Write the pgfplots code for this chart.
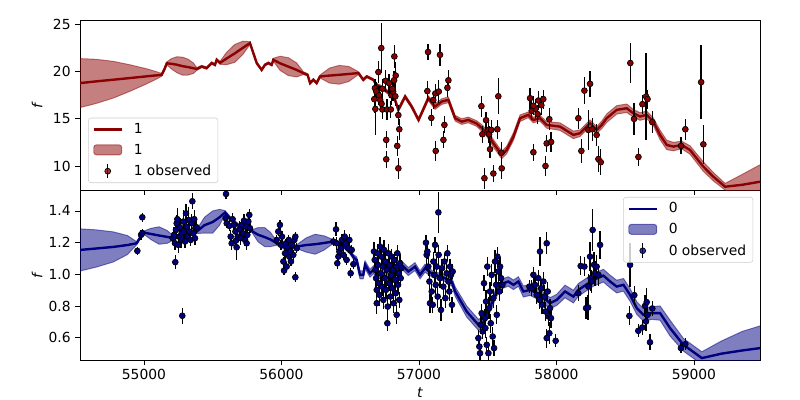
\documentclass[border=0pt]{standalone}
\usepackage{pgfplots}
\pgfplotsset{compat=1.18}
\usepackage{pgfplotstable}
\usepgfplotslibrary{fillbetween}
\usepackage{fontspec}
\setmainfont{DejaVu Sans}
\definecolor{dred}{HTML}{8B0000}
\definecolor{nvy}{HTML}{000080}

\pgfplotstableread{
t m s
54400 18.60 2.90
54535 18.80 2.60
54650 18.98 2.35
54777 19.16 1.95
54900 19.34 1.40
55020 19.52 0.80
55090 19.62 0.40
55129 19.68 0.15
55150 20.30 0.15
55166 20.90 0.15
55200 20.85 0.55
55240 20.75 0.85
55280 20.60 0.95
55320 20.50 0.85
55360 20.38 0.55
55384 20.30 0.15
55420 20.56 0.12
55456 20.39 0.12
55493 20.93 0.12
55517 20.74 0.12
55529 21.28 0.12
55553 20.95 0.15
55600 21.40 0.65
55660 21.95 0.95
55720 22.55 0.70
55771 23.05 0.15
55820 20.93 0.12
55856 20.20 0.12
55880 20.74 0.12
55905 20.93 0.12
55929 20.74 0.12
55941 21.28 0.15
55990 20.90 0.75
56050 20.55 0.95
56110 20.20 0.75
56159 19.86 0.15
56190 19.68 0.12
56208 18.80 0.12
56232 19.15 0.12
56256 18.80 0.12
56280 19.50 0.15
56350 19.60 0.80
56420 19.68 1.00
56490 19.77 0.80
56560 19.86 0.15
56595 19.15 0.12
56620 19.50 0.12
56644 19.33 0.12
56668 19.15 0.12
56693 18.60 0.15
56720 18.40 0.20
56760 18.00 0.20
56800 17.50 0.20
56826 17.02 0.20
56850 15.96 0.20
56899 17.37 0.20
56947 16.31 0.20
56997 14.89 0.20
57068 17.20 0.25
57117 16.31 0.30
57166 16.84 0.30
57214 17.02 0.30
57263 15.07 0.30
57311 14.71 0.30
57359 14.89 0.30
57420 14.50 0.30
57460 14.00 0.35
57493 13.48 0.35
57541 12.41 0.40
57602 11.17 0.40
57638 11.70 0.40
57687 13.12 0.40
57735 15.07 0.35
57795 15.43 0.30
57832 14.89 0.30
57880 15.07 0.30
57929 14.36 0.35
58026 14.18 0.40
58123 13.30 0.40
58171 13.48 0.35
58244 14.54 0.35
58292 13.83 0.35
58329 14.36 0.40
58365 15.07 0.45
58438 15.96 0.45
58511 16.13 0.45
58559 15.60 0.40
58608 15.25 0.40
58656 15.43 0.40
58704 14.71 0.40
58753 13.30 0.50
58802 12.23 0.50
58850 12.06 0.45
58910 12.23 0.40
58971 11.70 0.45
59068 9.93 0.50
59141 8.86 0.45
59226 7.80 0.35
59350 8.00 1.10
59480 8.33 1.80
}\topgp

\pgfplotstableread{
t y e
56726 22.52 2.7
56705 19.97 1.2
56680 18.27 1.0
56675 17.10 1.5
56683 16.06 2.8
56690 17.90 1.0
56709 17.50 1.0
56718 17.00 0.9
56728 16.60 0.9
56734 16.00 1.0
56758 19.04 1.2
56734 18.20 1.0
56767 16.00 1.1
56782 18.80 1.0
56795 16.00 0.9
56800 17.50 1.0
56812 17.90 1.0
56821 21.63 1.2
56831 19.60 1.4
56819 19.10 1.0
56807 18.20 1.0
56828 17.40 1.0
56762 12.77 0.9
56762 10.71 0.9
56850 15.40 1.1
56857 13.90 1.1
56842 12.13 1.1
56850 9.75 1.1
57066 22.10 0.9
57153 21.80 1.2
57061 17.95 1.1
57090 15.10 0.9
57104 17.00 0.9
57119 17.70 1.0
57144 17.90 1.2
57214 19.10 1.1
57207 18.30 1.0
57185 14.36 0.9
57178 12.77 0.9
57122 11.60 1.1
57454 16.35 1.1
57488 14.86 0.9
57461 13.37 0.9
57505 13.83 1.0
57510 13.37 0.9
57526 13.83 1.0
57570 13.90 1.0
57577 17.40 1.9
57517 11.78 0.9
57599 11.40 1.1
57602 9.75 1.1
57541 9.20 0.9
57476 8.70 1.1
57808 17.20 1.1
57820 15.85 1.0
57848 16.10 1.0
57863 15.50 1.0
57868 16.95 1.0
57890 16.45 1.0
57904 17.10 1.0
57832 16.40 1.0
57948 14.97 1.2
57929 12.40 0.9
57961 12.55 1.1
57920 10.00 1.1
57832 11.46 0.9
58159 15.07 1.1
58203 18.00 1.4
58244 18.72 1.4
58232 13.83 2.1
58261 13.90 1.2
58292 13.30 1.2
58181 11.60 1.3
58305 10.74 1.4
58322 10.40 1.4
58537 20.93 2.1
58564 15.00 1.7
58596 10.96 1.0
58625 16.56 1.0
58652 17.37 4.6
58662 17.10 1.0
58697 14.65 1.2
58906 12.13 0.9
58937 13.90 1.1
59052 18.90 3.9
59068 12.30 2.1
}\topobs

\pgfplotstableread{
t m s
54400 1.145 0.145
54535 1.154 0.133
54650 1.163 0.118
54777 1.173 0.095
54880 1.185 0.060
54947 1.196 0.010
54984 1.249 0.010
55000 1.263 0.010
55050 1.255 0.035
55110 1.245 0.055
55170 1.236 0.040
55218 1.228 0.010
55260 1.240 0.010
55300 1.260 0.010
55340 1.270 0.010
55384 1.270 0.012
55440 1.310 0.050
55500 1.330 0.070
55550 1.360 0.050
55590 1.390 0.012
55640 1.340 0.012
55700 1.300 0.012
55771 1.290 0.012
55790 1.270 0.012
55830 1.250 0.045
55878 1.235 0.060
55920 1.220 0.045
55966 1.196 0.012
56020 1.170 0.012
56070 1.170 0.012
56111 1.175 0.012
56180 1.185 0.045
56245 1.190 0.063
56310 1.198 0.045
56377 1.207 0.012
56450 1.180 0.012
56499 1.140 0.012
56523 1.110 0.015
56547 1.090 0.020
56571 0.997 0.025
56595 0.997 0.025
56608 1.060 0.025
56644 1.007 0.025
56670 1.030 0.025
56700 1.000 0.025
56780 0.980 0.025
56850 1.020 0.025
56874 1.060 0.025
56923 1.018 0.025
56971 1.049 0.025
57008 0.997 0.025
57044 1.039 0.025
57100 1.000 0.020
57180 0.980 0.020
57240 0.950 0.025
57263 0.892 0.030
57347 0.766 0.035
57432 0.682 0.035
57470 0.700 0.030
57520 0.800 0.030
57570 0.900 0.030
57614 0.944 0.030
57650 0.955 0.030
57687 0.934 0.030
57723 0.955 0.030
57759 0.892 0.035
57808 0.902 0.035
57880 0.871 0.035
57953 0.818 0.035
58002 0.839 0.035
58062 0.892 0.040
58123 0.860 0.040
58159 0.902 0.040
58232 0.944 0.040
58268 0.965 0.040
58341 0.992 0.040
58390 0.955 0.040
58438 0.923 0.040
58487 0.934 0.040
58535 0.871 0.040
58584 0.787 0.040
58632 0.745 0.040
58693 0.756 0.040
58753 0.756 0.045
58826 0.661 0.050
58923 0.556 0.040
59057 0.472 0.040
59200 0.500 0.080
59350 0.520 0.120
59480 0.535 0.140
}\botgp

\pgfplotstableread{
t y e
54952 1.148 0.025
54979 1.249 0.030
54988 1.360 0.030
54988 1.260 0.025
55209 1.228 0.040
55219 1.249 0.050
55226 1.196 0.040
55228 1.077 0.045
55233 1.280 0.060
55238 1.322 0.050
55243 1.348 0.070
55250 1.186 0.050
55257 1.238 0.040
55262 1.297 0.060
55270 1.217 0.050
55274 1.259 0.040
55279 0.739 0.050
55286 1.333 0.070
55291 1.270 0.050
55299 1.207 0.040
55306 1.385 0.060
55311 1.301 0.050
55318 1.238 0.040
55325 1.343 0.080
55330 1.270 0.050
55340 1.217 0.040
55347 1.322 0.060
55352 1.461 0.050
55359 1.259 0.050
55366 1.348 0.060
55374 1.291 0.050
55383 1.297 0.040
55371 1.228 0.040
55597 1.507 0.030
55594 1.354 0.030
55602 1.322 0.030
55621 1.306 0.035
55631 1.238 0.040
55638 1.196 0.040
55645 1.348 0.040
55655 1.312 0.040
55665 1.270 0.040
55669 1.213 0.050
55674 1.171 0.080
55682 1.238 0.040
55694 1.284 0.050
55703 1.228 0.040
55713 1.312 0.040
55720 1.259 0.050
55728 1.339 0.040
55735 1.217 0.040
55742 1.301 0.050
55752 1.249 0.040
55759 1.333 0.040
55766 1.375 0.040
55771 1.291 0.030
55747 1.196 0.040
55965 1.217 0.030
55977 1.270 0.030
55989 1.312 0.030
55997 1.186 0.030
56004 1.238 0.035
56014 1.081 0.030
56019 1.024 0.030
56026 1.133 0.035
56033 1.196 0.030
56038 1.049 0.030
56045 1.165 0.030
56053 1.217 0.030
56057 1.112 0.030
56062 1.144 0.030
56069 1.081 0.030
56077 1.186 0.030
56086 1.123 0.030
56094 1.217 0.030
56101 1.238 0.030
56101 0.982 0.030
56111 1.165 0.030
56377 1.207 0.030
56397 1.284 0.045
56402 1.196 0.040
56406 1.070 0.035
56414 1.112 0.030
56421 1.144 0.040
56431 1.165 0.040
56440 1.217 0.040
56450 1.123 0.035
56460 1.238 0.040
56469 1.196 0.035
56474 1.091 0.035
56486 1.165 0.030
56494 1.217 0.035
56503 1.007 0.030
56511 1.154 0.030
56523 1.064 0.030
56673 1.144 0.060
56678 1.091 0.050
56683 1.028 0.070
56688 0.976 0.060
56693 0.902 0.050
56693 0.818 0.070
56697 1.133 0.060
56702 1.060 0.050
56707 0.944 0.060
56712 0.871 0.070
56717 1.175 0.060
56722 1.007 0.050
56726 1.112 0.070
56731 0.923 0.060
56736 1.049 0.050
56741 0.839 0.060
56746 1.154 0.060
56751 0.976 0.070
56756 1.081 0.050
56760 0.902 0.060
56765 1.028 0.060
56770 0.692 0.050
56773 0.797 0.070
56777 1.133 0.060
56782 0.944 0.050
56787 1.060 0.060
56792 0.860 0.070
56797 0.997 0.060
56802 1.112 0.050
56806 0.913 0.060
56811 1.028 0.070
56816 0.818 0.060
56821 1.091 0.050
56826 0.965 0.060
56831 0.881 0.070
56836 1.049 0.060
56838 0.745 0.060
56843 1.133 0.050
56848 0.934 0.060
56853 1.007 0.060
56857 0.839 0.050
56862 1.070 0.060
56867 0.976 0.050
56872 1.039 0.050
57051 1.200 0.050
57056 1.123 0.060
57061 1.144 0.050
57068 1.049 0.060
57076 0.955 0.070
57080 0.818 0.060
57093 0.892 0.060
57100 0.808 0.050
57105 1.081 0.060
57112 0.997 0.070
57117 1.186 0.050
57122 0.934 0.060
57129 1.049 0.060
57136 0.860 0.070
57141 1.391 0.130
57143 1.123 0.060
57153 0.976 0.060
57160 0.776 0.070
57168 1.039 0.060
57177 0.923 0.060
57185 1.081 0.050
57192 0.850 0.060
57202 1.007 0.060
57207 1.133 0.050
57214 0.955 0.060
57221 0.892 0.060
57226 1.049 0.050
57233 0.997 0.060
57240 0.808 0.050
57245 1.018 0.050
57432 0.598 0.050
57439 0.545 0.040
57444 0.503 0.040
57449 0.682 0.060
57456 0.755 0.060
57463 0.640 0.050
57473 0.944 0.050
57480 0.724 0.060
57483 0.661 0.060
57488 0.829 0.070
57493 0.556 0.050
57497 1.049 0.060
57505 0.503 0.040
57510 0.787 0.070
57517 0.892 0.060
57522 0.692 0.060
57529 0.997 0.070
57536 0.608 0.060
57541 0.850 0.060
57546 0.535 0.050
57553 1.081 0.070
57561 0.934 0.070
57566 0.745 0.060
57570 1.112 0.060
57577 1.018 0.070
57585 0.892 0.060
57590 1.049 0.060
57597 0.976 0.060
57607 0.934 0.050
57803 0.923 0.040
57820 0.913 0.050
57832 0.997 0.050
57844 0.934 0.060
57856 0.871 0.060
57868 0.976 0.050
57876 0.839 0.060
57880 1.144 0.090
57888 0.913 0.060
57895 0.808 0.060
57905 0.955 0.060
57912 0.860 0.070
57920 0.766 0.060
57929 1.196 0.070
57929 0.598 0.060
57936 0.892 0.060
57944 0.734 0.060
57948 0.629 0.070
57953 0.787 0.060
57960 0.724 0.060
57994 0.581 0.040
58159 0.881 0.050
58176 1.053 0.060
58203 1.049 0.060
58215 0.787 0.070
58230 0.791 0.080
58232 0.923 0.080
58244 1.112 0.090
58249 0.976 0.080
58256 0.955 0.070
58263 1.280 0.130
58273 1.060 0.080
58280 1.007 0.080
58292 1.049 0.070
58305 0.997 0.070
58317 1.186 0.090
58530 0.738 0.060
58535 1.060 0.140
58566 0.869 0.060
58595 0.644 0.040
58624 0.665 0.050
58644 0.801 0.070
58651 0.703 0.060
58656 0.825 0.090
58663 0.745 0.060
58680 0.572 0.050
58697 0.785 0.050
58905 0.535 0.030
58937 0.560 0.040
}\botobs

\pgfplotsset{
  every axis/.append style={
    scale only axis, width=510pt, height=127.5pt,
    xmin=54535, xmax=59480,
    scaled x ticks=false, scaled y ticks=false,
    font=\fontsize{10.4pt}{12.5pt}\selectfont,
    tick label style={font=\fontsize{10.4pt}{12.5pt}\selectfont},
    /pgf/number format/assume math mode=true,
    /pgf/number format/set thousands separator={},
    xtick={55000,56000,57000,58000,59000},
    xtick pos=bottom, ytick pos=left,
    tick align=outside, major tick length=3.5pt,
    tick style={black, line width=0.6pt},
    axis line style={line width=0.6pt},
    legend cell align=left,
    legend style={draw=black!20, rounded corners=2pt, fill=white, fill opacity=0.8, text opacity=1,
      font=\fontsize{10.4pt}{12.5pt}\selectfont, inner xsep=3pt, inner ysep=2pt, row sep=2.5pt},
    ylabel style={at={(axis description cs:-0.063,0.5)}, anchor=center},
  },
}

\begin{document}
\begin{tikzpicture}
\begin{axis}[name=top, ymin=7.45, ymax=25.5, ytick={10,15,20,25}, xticklabels={},
  ylabel={\textit{f}},
  legend style={at={(0.012,0.041)}, anchor=south west}]
\addlegendimage{legend image code/.code={\path[draw=none, fill=none] (-1pt,0pt) -- (28pt,0pt); \draw[dred, line width=1.8pt] (0pt,0pt) -- (21pt,0pt);}}
\addlegendentry{1}
\addlegendimage{legend image code/.code={\path[draw=none, fill=none] (-1pt,0pt) -- (28pt,0pt); \draw[fill=dred, fill opacity=0.5, draw=dred, draw opacity=0.5, line width=0.7pt] (0pt,-3.5pt) rectangle (21pt,4pt);}}
\addlegendentry{1}
\addlegendimage{legend image code/.code={\path[draw=none, fill=none] (-1pt,0pt) -- (28pt,0pt); \draw[black, line width=1pt] (10.5pt,-5.5pt) -- (10.5pt,5.5pt); \draw[fill=dred, draw=black, line width=0.5pt] (10.5pt,0pt) circle (2.2pt);}}
\addlegendentry{1 observed}
\addplot[forget plot, draw=dred, draw opacity=0.5, line width=0.7pt, name path=tu] table[x=t, y expr=\thisrow{m}+\thisrow{s}] {\topgp};
\addplot[forget plot, draw=dred, draw opacity=0.5, line width=0.7pt, name path=tl] table[x=t, y expr=\thisrow{m}-\thisrow{s}] {\topgp};
\addplot[forget plot, fill=dred, fill opacity=0.5, draw=none] fill between[of=tu and tl];
\addplot[forget plot, dred, line width=1.8pt] table[x=t, y=m] {\topgp};
\addplot[forget plot, only marks, mark=*, mark size=2.2pt, mark options={fill=dred, draw=black, line width=0.5pt},
  error bars/.cd, y dir=both, y explicit, error bar style={black, line width=1pt}, error mark=none]
  table[x=t, y=y, y error=e] {\topobs};
\end{axis}
\begin{axis}[name=bot, at={(top.south west)}, anchor=north west,
  ymin=0.46, ymax=1.532, ytick={0.6,0.8,1.0,1.2,1.4},
  yticklabel style={/pgf/number format/.cd, fixed, fixed zerofill, precision=1},
  ylabel={\textit{f}}, xlabel={\textit{t}},
  xlabel style={at={(axis description cs:0.5,-0.19)}, anchor=center},
  legend style={at={(0.99,0.959)}, anchor=north east}]
\addlegendimage{legend image code/.code={\path[draw=none, fill=none] (-1pt,0pt) -- (28pt,0pt); \draw[nvy, line width=1.8pt] (0pt,0pt) -- (21pt,0pt);}}
\addlegendentry{0}
\addlegendimage{legend image code/.code={\path[draw=none, fill=none] (-1pt,0pt) -- (28pt,0pt); \draw[fill=nvy, fill opacity=0.5, draw=nvy, draw opacity=0.5, line width=0.7pt] (0pt,-3.5pt) rectangle (21pt,4pt);}}
\addlegendentry{0}
\addlegendimage{legend image code/.code={\path[draw=none, fill=none] (-1pt,0pt) -- (28pt,0pt); \draw[black, line width=1pt] (10.5pt,-5.5pt) -- (10.5pt,5.5pt); \draw[fill=nvy, draw=black, line width=0.5pt] (10.5pt,0pt) circle (2.2pt);}}
\addlegendentry{0 observed}
\addplot[forget plot, draw=nvy, draw opacity=0.5, line width=0.7pt, name path=bu] table[x=t, y expr=\thisrow{m}+\thisrow{s}] {\botgp};
\addplot[forget plot, draw=nvy, draw opacity=0.5, line width=0.7pt, name path=bl] table[x=t, y expr=\thisrow{m}-\thisrow{s}] {\botgp};
\addplot[forget plot, fill=nvy, fill opacity=0.5, draw=none] fill between[of=bu and bl];
\addplot[forget plot, nvy, line width=1.8pt] table[x=t, y=m] {\botgp};
\addplot[forget plot, only marks, mark=*, mark size=2.2pt, mark options={fill=nvy, draw=black, line width=0.5pt},
  error bars/.cd, y dir=both, y explicit, error bar style={black, line width=1pt}, error mark=none]
  table[x=t, y=y, y error=e] {\botobs};
\end{axis}
\pgfresetboundingbox
\path[use as bounding box] ([shift={(-60pt,15pt)}]top.north west) rectangle ([shift={(540pt,-285pt)}]top.north west);
\end{tikzpicture}
\end{document}
